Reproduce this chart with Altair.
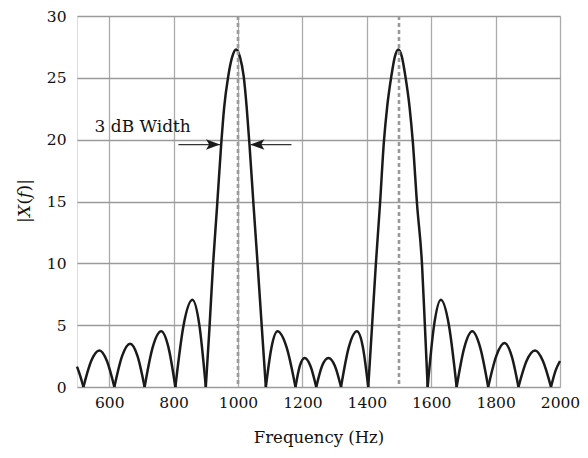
import altair as alt
import pandas as pd

# ---- data ----
freq = [500, 510, 520,
        544, 569.5, 593, 616,
        640, 665, 688, 710,
        735, 761.5, 784, 805.5,
        831, 858.5, 880, 900,
        911, 922.5, 935, 948, 957, 969.5, 982, 994, 1006, 1017.8, 1027, 1035.4, 1048, 1061, 1074, 1086.5,
        1104, 1122.5, 1151, 1178.5,
        1192, 1207, 1225, 1243,
        1261, 1281, 1301, 1320,
        1344, 1369.5, 1388, 1404.5,
        1416, 1428, 1441, 1453, 1463, 1476, 1487, 1498, 1509, 1520, 1533, 1543, 1556, 1571.5, 1580, 1589,
        1609, 1630, 1655, 1679,
        1703, 1727.5, 1752, 1777,
        1802, 1828, 1850, 1871,
        1896, 1922.5, 1947, 1972,
        1986, 2000]
mag = [1.65, 0.9, 0,
       2.1, 2.95, 2.1, 0,
       2.5, 3.5, 2.5, 0,
       3.2, 4.5, 3.2, 0,
       5.0, 7.05, 5.0, 0,
       4.6, 9.9, 14.6, 19.7, 22.6, 25.1, 26.7, 27.3, 26.7, 25.1, 22.6, 19.7, 14.8, 9.9, 4.8, 0,
       3.2, 4.5, 3.2, 0,
       1.7, 2.35, 1.7, 0,
       1.7, 2.35, 1.7, 0,
       3.2, 4.5, 3.2, 0,
       4.8, 9.9, 14.8, 19.8, 22.6, 25.1, 26.7, 27.3, 26.7, 25.1, 22.6, 19.8, 14.8, 9.9, 5.2, 0,
       5.0, 7.05, 5.0, 0,
       3.2, 4.5, 3.2, 0,
       2.5, 3.55, 2.5, 0,
       2.1, 2.95, 2.1, 0,
       1.3, 2.1]

tone_freqs = [1000, 1500]
x_ticks = [600, 800, 1000, 1200, 1400, 1600, 1800, 2000]
y_ticks = [0, 5, 10, 15, 20, 25, 30]

arrow_label = "3 dB Width"
arrow_level = 19.6
arrow_from = [815, 1166]
arrow_to = [944, 1038.5]
label_pos = [704, 21.0]

ytitle_parts = ["|", "X", "(", "f", ")|"]
ytitle_style = ["normal", "italic", "normal", "italic", "normal"]
ytitle_width = [5.8, 12.5, 6.6, 6.5, 12.4]

FONT = "DejaVu Serif"

# split the curve into lobes at its nulls (each null shared by both lobes)
rows = []
seg = 0
for f, m in zip(freq, mag):
    rows.append({"f": f, "m": m, "seg": seg})
    if m == 0:
        seg += 1
        rows.append({"f": f, "m": m, "seg": seg})
curve = pd.DataFrame(rows)

xs = alt.Scale(domain=[500, 2000], nice=False, zero=False)
ys = alt.Scale(domain=[0, 30], nice=False)

base_x = alt.X("f:Q", scale=xs,
               axis=alt.Axis(values=x_ticks, format="d", title="Frequency (Hz)", grid=True,
                             gridColor="#ababab", gridWidth=1.3, ticks=False,
                             domain=False, labelFont=FONT, labelFontSize=15.5,
                             labelColor="#111", labelPadding=8, labelOverlap=False,
                             labelFlush=False,
                             titleFont=FONT, titleFontSize=16.5,
                             titleFontWeight="normal", titleColor="#111",
                             titlePadding=19))
base_y = alt.Y("m:Q", scale=ys,
               axis=alt.Axis(values=y_ticks, title=None, grid=True,
                             gridColor="#9a9a9a", gridWidth=1.3, ticks=False,
                             domain=False, labelFont=FONT, labelFontSize=15.5,
                             labelColor="#111", labelPadding=11, labelOverlap=False,
                             labelFlush=False))

line = alt.Chart(curve).mark_line(
    interpolate="monotone", color="#1a1a1a", strokeWidth=2.5
).encode(x=base_x, y=base_y, detail="seg:N")

tones = alt.Chart(pd.DataFrame({"f": tone_freqs})).mark_rule(
    color="#9a9a9a", strokeDash=[4, 3], strokeWidth=2.6
).encode(x=alt.X("f:Q", scale=xs))

arrows_df = pd.DataFrame({"x1": arrow_from, "x2": arrow_to,
                          "y": [arrow_level, arrow_level]})
arrow_lines = alt.Chart(arrows_df).mark_rule(color="#333", strokeWidth=1.3).encode(
    x=alt.X("x1:Q", scale=xs), x2="x2:Q", y=alt.Y("y:Q", scale=ys))

head_r = alt.Chart(pd.DataFrame({"x": [arrow_to[0]], "y": [arrow_level]})).mark_point(
    shape="M0,0L-2,-0.75L-1.55,0L-2,0.75Z", filled=True, color="#1a1a1a", opacity=1, size=196
).encode(x=alt.X("x:Q", scale=xs), y=alt.Y("y:Q", scale=ys))
head_l = alt.Chart(pd.DataFrame({"x": [arrow_to[1]], "y": [arrow_level]})).mark_point(
    shape="M0,0L2,-0.75L1.55,0L2,0.75Z", filled=True, color="#1a1a1a", opacity=1, size=196
).encode(x=alt.X("x:Q", scale=xs), y=alt.Y("y:Q", scale=ys))

label = alt.Chart(pd.DataFrame({"x": [label_pos[0]], "y": [label_pos[1]],
                                "t": [arrow_label]})).mark_text(
    font=FONT, fontSize=17, align="center", baseline="middle", color="#111"
).encode(x=alt.X("x:Q", scale=xs), y=alt.Y("y:Q", scale=ys), text="t:N")

# rotated y-axis title with italic parts
ytitle_layers = []
start = 185 + sum(ytitle_width) / 2
for part, style, w in zip(ytitle_parts, ytitle_style, ytitle_width):
    ytitle_layers.append(
        alt.Chart(pd.DataFrame({"t": [part]})).mark_text(
            font=FONT, fontSize=17, fontStyle=style, angle=270,
            align="left", baseline="middle", color="#111"
        ).encode(x=alt.value(-52), y=alt.value(start), text="t:N")
    )
    start -= w

chart = alt.layer(line, tones, arrow_lines, head_r, head_l, label, *ytitle_layers).properties(
    width=483, height=371,
    autosize=alt.AutoSizeParams(type="none"),
    padding={"left": 69, "top": 8, "right": 20, "bottom": 62},
).configure_view(stroke="#222", strokeWidth=1.8).configure(background="white")

chart.save("out.html", embed_options={"renderer": "svg", "actions": False})
